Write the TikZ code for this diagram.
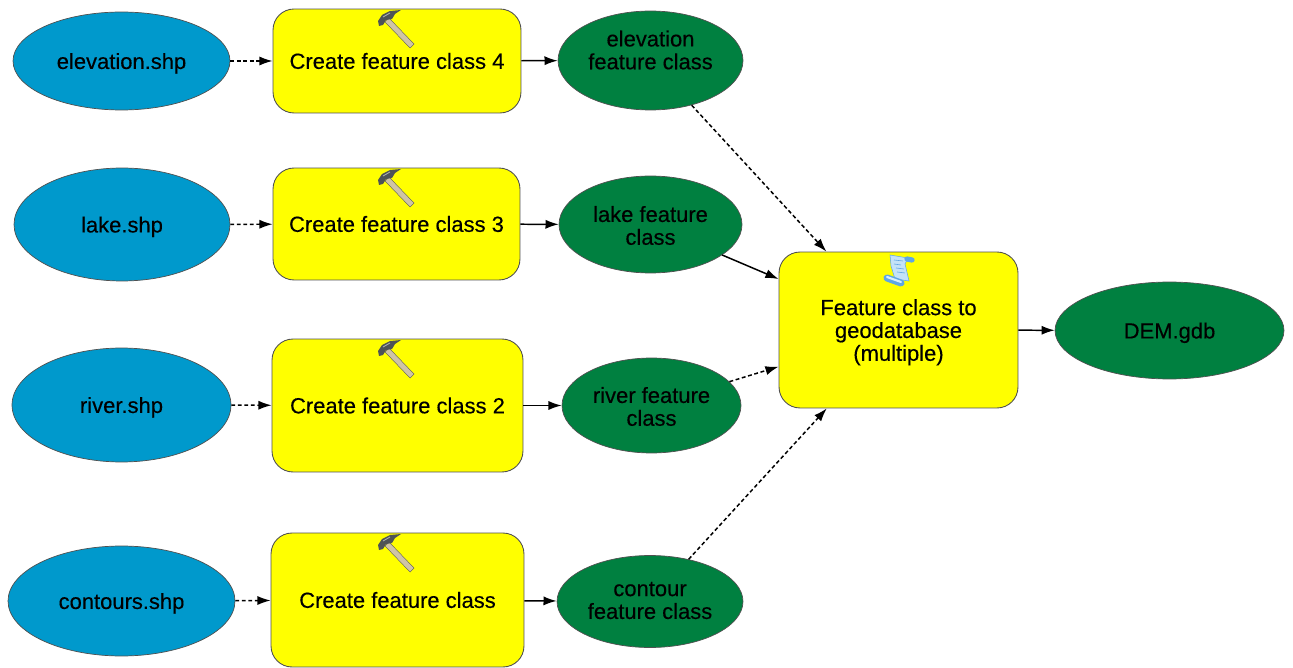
\documentclass[tikz,border=0pt]{standalone}
\usepackage{fontspec}
\setmainfont[FakeBold=0.3]{Liberation Sans}
\usetikzlibrary{arrows.meta, shapes.geometric}
\definecolor{inputblue}{HTML}{0099CC}
\definecolor{outputgreen}{HTML}{008040}
\definecolor{toolyellow}{HTML}{FFFF00}
\definecolor{edgegrey}{HTML}{505050}
\definecolor{handletan}{HTML}{CFC4A6}
\definecolor{headgrey}{HTML}{4E5356}
\definecolor{headlight}{HTML}{A8ADB0}
\definecolor{paperblue}{HTML}{C4E2F8}
\definecolor{rollblue}{HTML}{5FA6E4}
\definecolor{rolllight}{HTML}{D8EEFC}
\tikzset{
nodetext/.style={font=\fontsize{12.5}{13}\selectfont, align=center, text=black},
inputoval/.style={nodetext, ellipse, draw=edgegrey, fill=inputblue, line width=0.4pt, inner sep=0, text depth=0pt},
outputoval/.style={nodetext, ellipse, draw=edgegrey, fill=outputgreen, line width=0.4pt, inner sep=0},
toolbox/.style={nodetext, rectangle, rounded corners=0.42cm, draw=edgegrey, fill=toolyellow, line width=0.5pt, inner sep=0},
flow/.style={-{Latex[length=7.5pt,width=5.2pt]}, line width=0.85pt, black},
dashflow/.style={flow, dash pattern=on 2.2pt off 1.5pt},
hammer/.pic={
  \fill[handletan, draw=edgegrey, line width=0.2pt] (-8,-10) -- (17,16) -- (13,20) -- (-12,-6) -- cycle;
  \fill[headgrey] (-19,-7) -- (-15,-13) -- (-7,-17) -- (4,-18) -- (-2,-14) -- (-5,-9) -- (-11,-8) -- (-14,-3) -- (-18,-2) -- cycle;
  \draw[headlight, line width=0.5pt] (-14,-11) -- (-7,-15);
  },
scrollicon/.pic={
  \fill[paperblue, draw=rollblue, line width=0.3pt] (-9,-16) -- (9,-13) -- (6,-7) -- (10,10) -- (-4,8) -- (-8,-5) -- cycle;
  \draw[rollblue, line width=0.35pt] (-5,-11) -- (4,-10) (-5,-7) -- (2,-6) (-3,-3) -- (5,-2) (-2,1) -- (6,2);
  \draw[rollblue, line width=4pt, line cap=round] (-12,7) -- (2,12);
  \draw[rolllight, line width=1.2pt, line cap=round] (-12,6) -- (2,11);
  \draw[rollblue, line width=3pt, line cap=round] (8,-12) -- (13,-11);
  }
}
\begin{document}
\begin{tikzpicture}[x=0.02cm, y=-0.02cm]
\useasboundingbox (0,0) rectangle (1293,668);
% input data
\node[inputoval, minimum width=4.34cm, minimum height=1.96cm] (elevation) at (121.5,61) {elevation.shp};
\node[inputoval, minimum width=4.32cm, minimum height=2.26cm] (lake) at (122,224.5) {lake.shp};
\node[inputoval, minimum width=4.38cm, minimum height=2.28cm] (river) at (121.5,405) {river.shp};
\node[inputoval, minimum width=4.54cm, minimum height=2.20cm] (contours) at (121.5,601) {contours.shp};
% tools
\node[toolbox, minimum width=4.96cm, minimum height=2.08cm] (create4) at (397,61) {Create feature class 4};
\node[toolbox, minimum width=4.94cm, minimum height=2.24cm] (create3) at (396.5,224) {Create feature class 3};
\node[toolbox, minimum width=5.02cm, minimum height=2.66cm] (create2) at (397.5,405.5) {Create feature class 2};
\node[toolbox, minimum width=5.06cm, minimum height=2.68cm] (create1) at (397.5,600) {Create feature class};
\node[toolbox, text depth=0pt, minimum width=4.78cm, minimum height=3.12cm] (togdb) at (898.5,330) {Feature class to\\geodatabase\\(multiple)};
% outputs
\node[outputoval, minimum width=3.70cm, minimum height=1.98cm] (elevationfc) at (650.5,60.5) {};
\node[outputoval, minimum width=3.66cm, minimum height=1.94cm] (lakefc) at (650.5,224.5) {};
\node[outputoval, minimum width=3.58cm, minimum height=1.90cm] (riverfc) at (651.5,405.5) {};
\node[outputoval, minimum width=3.72cm, minimum height=1.84cm] (contourfc) at (650,601.5) {};
\node[outputoval, text depth=0pt, minimum width=4.58cm, minimum height=1.94cm] (dem) at (1169.5,330.5) {DEM.gdb};
\node[nodetext] (elevationtext) at (650.5,50) {elevation\\feature class};
\node[nodetext] (laketext) at (650.5,225.5) {lake feature\\class};
\node[nodetext] (rivertext) at (651.5,406.5) {river feature\\class};
\node[nodetext] (contourtext) at (650,600.5) {contour\\feature class};
% icons
\pic at (397,28) {hammer};
\pic at (397,187) {hammer};
\pic at (397,358) {hammer};
\pic at (397,552) {hammer};
\pic at (899,271) {scrollicon};
% connectors
\draw[dashflow] (elevation) -- (create4);
\draw[dashflow] (lake) -- (create3);
\draw[dashflow] (river) -- (create2);
\draw[dashflow] (contours) -- (create1);
\draw[flow] (create4) -- (elevationfc);
\draw[flow] (create3) -- (lakefc);
\draw[flow] (create2) -- (riverfc);
\draw[flow] (create1) -- (contourfc);
\draw[dashflow] (elevationfc) -- (togdb);
\draw[flow] (lakefc) -- (togdb);
\draw[dashflow] (riverfc) -- (togdb);
\draw[dashflow] (contourfc) -- (togdb);
\draw[flow] (togdb) -- (dem);
\end{tikzpicture}
\end{document}
